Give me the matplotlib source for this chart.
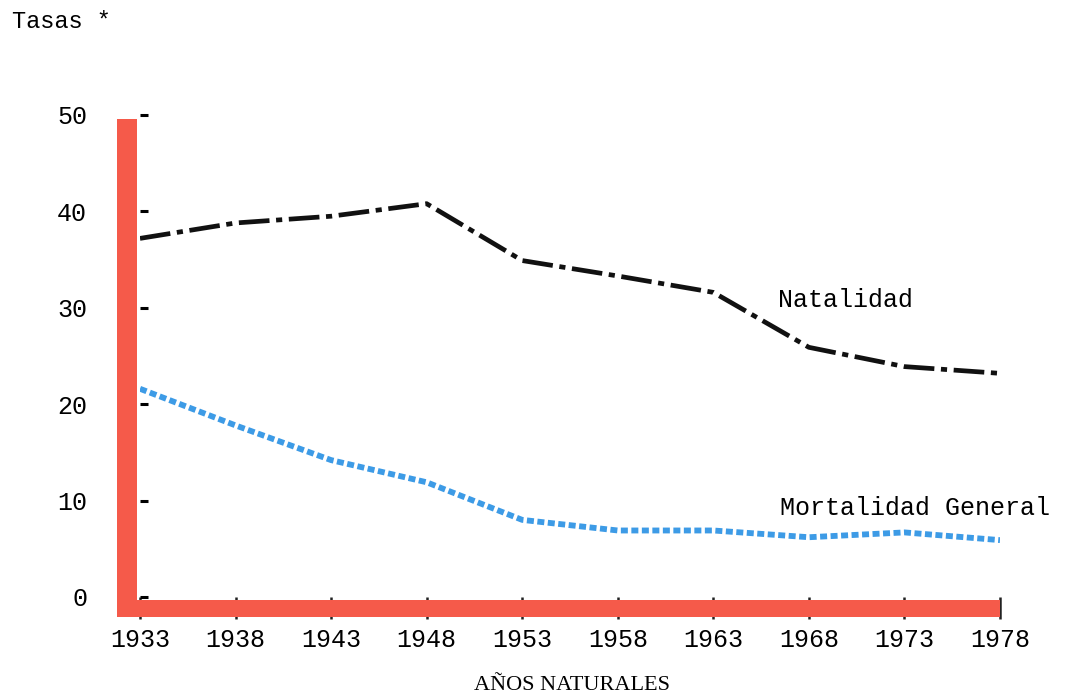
import matplotlib.pyplot as plt
from matplotlib.patches import Rectangle

# Data (tasas por mil)
years = [1933, 1938, 1943, 1948, 1953, 1958, 1963, 1968, 1973, 1978]
natalidad_years = [1933, 1938, 1943, 1948, 1953, 1958, 1963, 1968, 1973, 1978]
natalidad = [37.2, 38.8, 39.5, 40.8, 34.9, 33.3, 31.6, 25.9, 23.9, 23.2]
mortalidad = [21.6, 17.8, 14.2, 11.9, 8.0, 6.9, 6.9, 6.2, 6.7, 5.9]
y_ticks = [0, 10, 20, 30, 40, 50]

mono = 'Liberation Mono'
red = '#f55a4a'
blue = '#3d9be6'

fig = plt.figure(figsize=(10.73, 7.0), dpi=100)
# axes = data area (1933..1978, 0..50)
ax = fig.add_axes([140 / 1073, 1 - 597 / 700, 860 / 1073, 482 / 700])
ax.set_xlim(1933, 1978)
ax.set_ylim(0, 50)

for s in ax.spines.values():
    s.set_visible(False)

# red L-shaped frame
ax.add_patch(Rectangle((-0.027, -0.042), 0.023, 1.034, transform=ax.transAxes,
                       color=red, clip_on=False, zorder=3, lw=0))
ax.add_patch(Rectangle((-0.027, -0.042), 1.027, 0.036, transform=ax.transAxes,
                       color=red, clip_on=False, zorder=3, lw=0))

ax.plot(natalidad_years, natalidad, color='#111111', lw=3.4,
        linestyle=(0, (6.5, 1.4, 1.3, 1.4)), zorder=2)
ax.plot(years, mortalidad, color=blue, lw=4.2,
        linestyle=(0, (1.2, 0.6)), zorder=2)

ax.text(1966.4, 30.8, 'Natalidad', fontsize=18, family=mono, va='center')
ax.text(1966.5, 9.2, 'Mortalidad General', fontsize=18, family=mono, va='center')

ax.set_yticks(y_ticks)
ax.set_yticklabels([str(v) for v in y_ticks], family=mono, fontsize=18)
ax.tick_params(axis='y', direction='in', length=6, width=2.2, color='black',
               pad=38, left=True)
ax.set_xticks(years)
ax.set_xticklabels([str(v) for v in years], family=mono, fontsize=18)
ax.tick_params(axis='x', direction='out', length=16, width=1.8, color='#222222',
               pad=6)

fig.text(12 / 1073, 1 - 22 / 700, 'Tasas *', family=mono, fontsize=17, va='center')
fig.text(572 / 1073, 1 - 686 / 700, 'AÑOS NATURALES', family='Liberation Serif',
         fontsize=16, va='center', ha='center')

fig.savefig('out.png', dpi=100)
